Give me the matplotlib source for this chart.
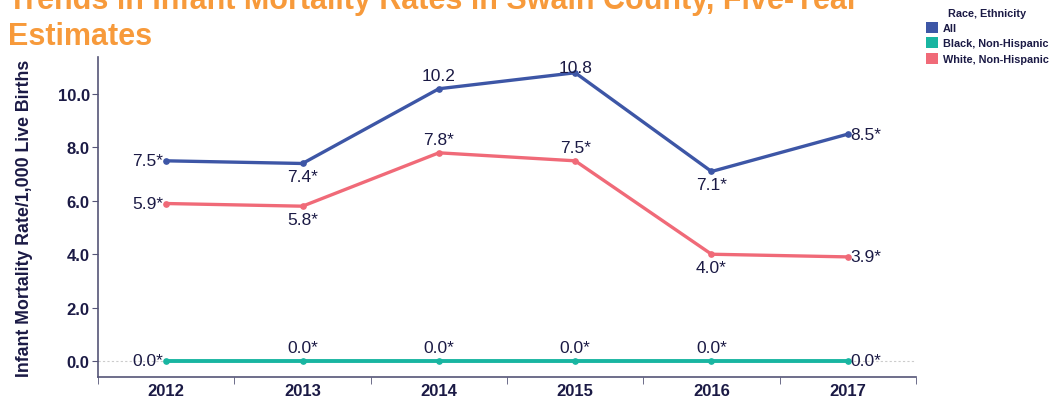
import matplotlib
matplotlib.use("Agg")
import matplotlib.pyplot as plt
from matplotlib.patches import Patch

years = ["2012", "2013", "2014", "2015", "2016", "2017"]
all_vals = [7.5, 7.4, 10.2, 10.8, 7.1, 8.5]
black_vals = [0.0, 0.0, 0.0, 0.0, 0.0, 0.0]
white_vals = [5.9, 5.8, 7.8, 7.5, 4.0, 3.9]
all_labels = ["7.5*", "7.4*", "10.2", "10.8", "7.1*", "8.5*"]
black_labels = ["0.0*", "0.0*", "0.0*", "0.0*", "0.0*", "0.0*"]
white_labels = ["5.9*", "5.8*", "7.8*", "7.5*", "4.0*", "3.9*"]
series_names = ["All", "Black, Non-Hispanic", "White, Non-Hispanic"]
yticks = [0.0, 2.0, 4.0, 6.0, 8.0, 10.0]

c_all = "#3d56a6"
c_black = "#19b5a1"
c_white = "#f06a78"
navy = "#1b1a45"
orange = "#f79a3b"

plt.rcParams['font.family'] = ['Liberation Sans', 'DejaVu Sans']

fig = plt.figure(figsize=(10.64, 4.02), dpi=100)
ax = fig.add_axes([98/1064, 1-378/402, (916-98)/1064, (378-58)/402])

x = list(range(len(years)))
ax.axhline(0, color="#cccccc", lw=0.8, ls=(0, (2, 2)), zorder=0)
for vals, col, lw in [(black_vals, c_black, 2.8), (white_vals, c_white, 2.4), (all_vals, c_all, 2.4)]:
    ax.plot(x, vals, color=col, lw=lw, marker="o", ms=3.8, zorder=3)

# label positions: 'l' left, 'r' right, 'a' above, 'b' below, 'n' near (just above)
all_pos = ['l', 'b', 'a', 'n', 'b', 'r']
white_pos = ['l', 'b', 'a', 'a', 'b', 'r']
black_pos = ['l', 'a', 'a', 'a', 'a', 'r']

def place(vals, labels, poss):
    for i, (v, lab, p) in enumerate(zip(vals, labels, poss)):
        if p == 'l':
            kw = dict(xytext=(-2, 0), ha='right', va='center')
        elif p == 'r':
            kw = dict(xytext=(2, 0), ha='left', va='center')
        elif p == 'a':
            kw = dict(xytext=(0, 4), ha='center', va='bottom')
        elif p == 'n':
            kw = dict(xytext=(0, 3.5), ha='center', va='center')
        else:
            kw = dict(xytext=(0, -4), ha='center', va='top')
        ax.annotate(lab, (i, v), textcoords='offset points', fontsize=12.5,
                    color=navy, zorder=4, **kw)

place(all_vals, all_labels, all_pos)
place(white_vals, white_labels, white_pos)
place(black_vals, black_labels, black_pos)

ax.set_xlim(-0.5, 5.5)
ax.set_ylim(-0.6, 11.39)
ax.set_xticks(x)
ax.set_xticklabels(years, fontsize=12, fontweight='bold', color=navy)
ax.set_xticks([i - 0.5 for i in range(len(years) + 1)], minor=True)
ax.tick_params(axis='x', which='major', length=0, pad=4)
ax.tick_params(axis='x', which='minor', length=5, color="#555577")
ax.set_yticks(yticks)
ax.set_yticklabels([f"{t:.1f}" for t in yticks], fontsize=12, fontweight='bold', color=navy)
ax.tick_params(axis='y', length=4, color="#555577", pad=2)
for s in ['top', 'right']:
    ax.spines[s].set_visible(False)
for s in ['left', 'bottom']:
    ax.spines[s].set_color("#555577")
    ax.spines[s].set_linewidth(1.2)
ax.set_ylabel("Infant Mortality Rate/1,000 Live Births", fontsize=12.8, fontweight='bold',
              color=navy, labelpad=18)

fig.text(8/1064, 1-45/402, "Trends in Infant Mortality Rates in Swain County, Five-Year\nEstimates",
         fontsize=22, fontweight='bold', color=orange, ha='left', va='baseline',
         linespacing=1.25)

handles = [Patch(facecolor=c, edgecolor='none') for c in (c_all, c_black, c_white)]
leg = fig.legend(handles, series_names, loc='upper left', bbox_to_anchor=(917/1064, 1.0),
                 frameon=False, title="Race, Ethnicity",
                 prop={'size': 7.8, 'weight': 'bold'}, handlelength=1.15, handleheight=1.15,
                 handletextpad=0.45, labelspacing=0.4, borderpad=0.3)
leg.get_title().set_fontweight('bold')
leg.get_title().set_fontsize(7.8)
leg.get_title().set_color(navy)
for t in leg.get_texts():
    t.set_color(navy)

fig.savefig("out.png", dpi=100)
